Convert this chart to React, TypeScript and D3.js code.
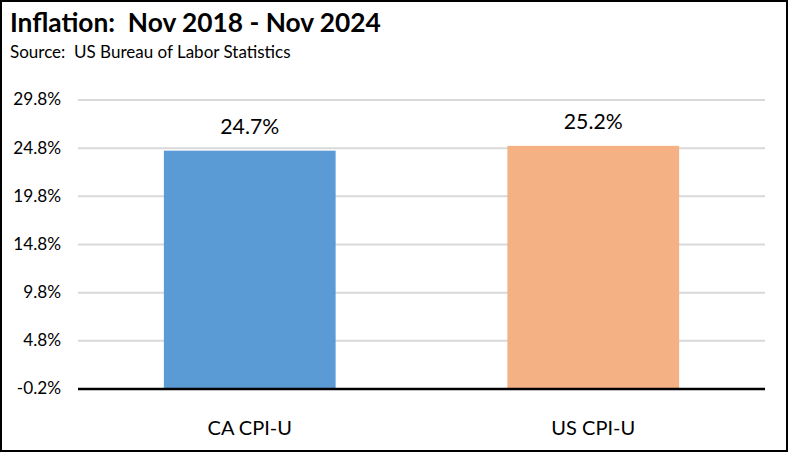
import React from "react";
import * as d3 from "d3";

const categories = ["CA CPI-U", "US CPI-U"];
const values = [24.7, 25.2];
const valueLabels = ["24.7%", "25.2%"];
const barColors = ["#5b9bd5", "#f4b183"];
const tickLabels = ["-0.2%", "4.8%", "9.8%", "14.8%", "19.8%", "24.8%", "29.8%"];
const title = "Inflation:  Nov 2018 - Nov 2024";
const subtitle = "Source:  US Bureau of Labor Statistics";

const W = 788;
const H = 452;
const FONT = "Lato, 'Open Sans', sans-serif";

export default function App() {
  const yMin = -0.04;
  const step = 5;
  const yMax = yMin + step * (tickLabels.length - 1);
  const y = d3.scaleLinear().domain([yMin, yMax]).range([389, 100]);
  const x = d3.scaleBand<string>().domain(categories).range([78, 765]).paddingInner(0.5).paddingOuter(0.25);
  const tickVals = tickLabels.map((_, i) => yMin + i * step);

  return (
    <div style={{ position: "fixed", left: 0, top: 0, width: W, height: H, background: "#fff" }}>
      <svg width={W} height={H} style={{ display: "block" }}>
        <rect x={0} y={0} width={W} height={H} fill="#fff" />
        <text x={10} y={32} fontFamily={FONT} fontWeight={700} fontSize={26.3} fill="#000" style={{ whiteSpace: "pre" }}>{title}</text>
        <text x={10} y={58} fontFamily={FONT} fontSize={17} fill="#000" style={{ whiteSpace: "pre" }}>{subtitle}</text>
        {tickVals.map((v, i) => (
          <g key={i}>
            <line x1={78} x2={765} y1={y(v)} y2={y(v)} stroke="#d9d9d9" strokeWidth={2} />
            <text x={61} y={y(v) + 1} textAnchor="end" dominantBaseline="middle" fontFamily={FONT} fontSize={17.2} fill="#000">
              {tickLabels[i]}
            </text>
          </g>
        ))}
        {categories.map((c, i) => (
          <g key={c}>
            <rect x={x(c)} y={y(values[i])} width={x.bandwidth()} height={y(yMin) - y(values[i])} fill={barColors[i]} />
            <text x={(x(c) as number) + x.bandwidth() / 2} y={y(values[i]) - 16.5} textAnchor="middle" fontFamily={FONT} fontSize={21.2} fill="#000">
              {valueLabels[i]}
            </text>
            <text x={(x(c) as number) + x.bandwidth() / 2} y={435} textAnchor="middle" fontFamily={FONT} fontSize={20} fill="#000">
              {c}
            </text>
          </g>
        ))}
        <line x1={78} x2={765} y1={y(yMin)} y2={y(yMin)} stroke="#000" strokeWidth={2.5} />
        <rect x={1} y={1} width={W - 2} height={H - 2} fill="none" stroke="#000" strokeWidth={2} />
      </svg>
    </div>
  );
}
